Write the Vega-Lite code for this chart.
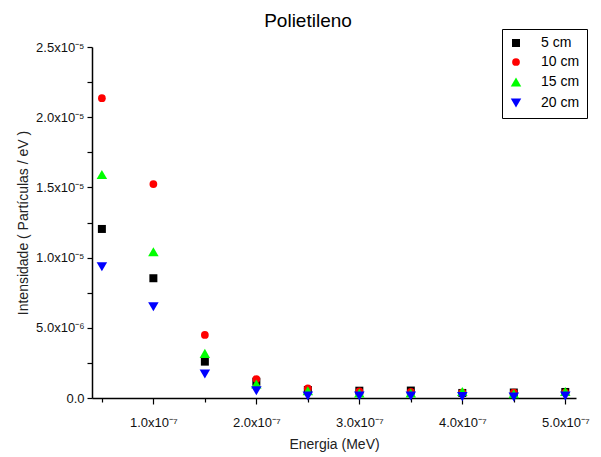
{
  "$schema": "https://vega.github.io/schema/vega-lite/v6.json",
  "autosize": "none",
  "width": 484,
  "height": 351,
  "padding": {"left": 92, "top": 47, "right": 25, "bottom": 59},
  "background": "white",
  "config": {
    "font": "Liberation Sans",
    "view": {"stroke": null}
  },
  "title": {"text": "Polietileno", "fontSize": 19, "fontWeight": "normal", "font": "Liberation Sans", "color": "black", "offset": -2, "dx": -26},
  "data": {
    "values": [
      {"e": 5e-8, "i": 1.204e-5, "s": "5 cm"},
      {"e": 1e-7, "i": 0.853e-5, "s": "5 cm"},
      {"e": 1.5e-7, "i": 0.259e-5, "s": "5 cm"},
      {"e": 2e-7, "i": 0.116e-5, "s": "5 cm"},
      {"e": 2.5e-7, "i": 0.057e-5, "s": "5 cm"},
      {"e": 3e-7, "i": 0.052e-5, "s": "5 cm"},
      {"e": 3.5e-7, "i": 0.053e-5, "s": "5 cm"},
      {"e": 4e-7, "i": 0.036e-5, "s": "5 cm"},
      {"e": 4.5e-7, "i": 0.039e-5, "s": "5 cm"},
      {"e": 5e-7, "i": 0.043e-5, "s": "5 cm"},
      {"e": 5e-8, "i": 2.135e-5, "s": "10 cm"},
      {"e": 1e-7, "i": 1.524e-5, "s": "10 cm"},
      {"e": 1.5e-7, "i": 0.449e-5, "s": "10 cm"},
      {"e": 2e-7, "i": 0.135e-5, "s": "10 cm"},
      {"e": 2.5e-7, "i": 0.069e-5, "s": "10 cm"},
      {"e": 3e-7, "i": 0.048e-5, "s": "10 cm"},
      {"e": 3.5e-7, "i": 0.043e-5, "s": "10 cm"},
      {"e": 4e-7, "i": 0.039e-5, "s": "10 cm"},
      {"e": 4.5e-7, "i": 0.039e-5, "s": "10 cm"},
      {"e": 5e-7, "i": 0.039e-5, "s": "10 cm"},
      {"e": 5e-8, "i": 1.592e-5, "s": "15 cm"},
      {"e": 1e-7, "i": 1.042e-5, "s": "15 cm"},
      {"e": 1.5e-7, "i": 0.318e-5, "s": "15 cm"},
      {"e": 2e-7, "i": 0.1e-5, "s": "15 cm"},
      {"e": 2.5e-7, "i": 0.052e-5, "s": "15 cm"},
      {"e": 3e-7, "i": 0.036e-5, "s": "15 cm"},
      {"e": 3.5e-7, "i": 0.036e-5, "s": "15 cm"},
      {"e": 4e-7, "i": 0.046e-5, "s": "15 cm"},
      {"e": 4.5e-7, "i": 0.03e-5, "s": "15 cm"},
      {"e": 5e-7, "i": 0.046e-5, "s": "15 cm"},
      {"e": 5e-8, "i": 0.935e-5, "s": "20 cm"},
      {"e": 1e-7, "i": 0.65e-5, "s": "20 cm"},
      {"e": 1.5e-7, "i": 0.171e-5, "s": "20 cm"},
      {"e": 2e-7, "i": 0.052e-5, "s": "20 cm"},
      {"e": 2.5e-7, "i": 0.014e-5, "s": "20 cm"},
      {"e": 3e-7, "i": 0.014e-5, "s": "20 cm"},
      {"e": 3.5e-7, "i": 0.014e-5, "s": "20 cm"},
      {"e": 4e-7, "i": 0.01e-5, "s": "20 cm"},
      {"e": 4.5e-7, "i": 0.007e-5, "s": "20 cm"},
      {"e": 5e-7, "i": 0.014e-5, "s": "20 cm"}
    ]
  },
  "mark": {"type": "point", "filled": true, "opacity": 1},
  "encoding": {
    "x": {
      "field": "e", "type": "quantitative",
      "scale": {"domain": [4.04e-8, 5.104e-7], "nice": false, "zero": false},
      "axis": {
        "title": "Energia (MeV)",
        "titleFont": "Liberation Sans", "titleFontSize": 14, "titleFontWeight": "normal", "titleColor": "#222", "titlePadding": 8,
        "values": [5e-8, 1e-7, 1.5e-7, 2e-7, 2.5e-7, 3e-7, 3.5e-7, 4e-7, 4.5e-7, 5e-7],
        "labelExpr": "round(datum.value*2e7) % 2 == 1 ? '' : format(datum.value/1e-7, '.1f') + 'x10⁻⁷'",
        "labelFontSize": 13, "labelColor": "#111", "labelPadding": 12, "labelFlush": false,
        "grid": false, "domainColor": "black", "domainWidth": 1.5, "tickColor": "black", "tickWidth": 1.2,
        "tickSize": {"condition": {"test": "round(datum.value*2e7) % 2 == 1", "value": 4}, "value": 6}
      }
    },
    "y": {
      "field": "i", "type": "quantitative",
      "scale": {"domain": [0, 2.5e-5], "nice": false},
      "axis": {
        "title": "Intensidade ( Partículas / eV )",
        "titleFont": "Liberation Sans", "titleFontSize": 14, "titleFontWeight": "normal", "titleColor": "#222", "titlePadding": 5,
        "values": [0, 2.5e-6, 5e-6, 7.5e-6, 1e-5, 1.25e-5, 1.5e-5, 1.75e-5, 2e-5, 2.25e-5, 2.5e-5],
        "labelExpr": "datum.value == 0 ? '0.0' : (round(datum.value*4e5) % 2 == 1 ? '' : (datum.value < 9e-6 ? format(datum.value/1e-6, '.1f') + 'x10⁻⁶' : format(datum.value/1e-5, '.1f') + 'x10⁻⁵'))",
        "labelFontSize": 13, "labelColor": "#111", "labelPadding": 3,
        "grid": false, "domainColor": "black", "domainWidth": 1.5, "tickColor": "black", "tickWidth": 1.2, "tickSize": 5
      }
    },
    "color": {
      "field": "s", "type": "nominal",
      "scale": {"domain": ["5 cm", "10 cm", "15 cm", "20 cm"], "range": ["#000000", "#ff0000", "#00ff00", "#0000ff"]},
      "legend": {
        "title": null, "orient": "none", "legendX": 410, "legendY": -18,
        "strokeColor": "black", "fillColor": "white", "padding": 7,
        "labelFontSize": 14, "labelColor": "black", "rowPadding": 5, "labelOffset": 18,
        "symbolOpacity": 1
      }
    },
    "shape": {
      "field": "s", "type": "nominal",
      "scale": {"domain": ["5 cm", "10 cm", "15 cm", "20 cm"], "range": ["square", "circle", "triangle-up", "triangle-down"]}
    },
    "size": {
      "field": "s", "type": "ordinal",
      "scale": {"type": "ordinal", "domain": ["5 cm", "10 cm", "15 cm", "20 cm"], "range": [64, 60, 110, 110]},
      "legend": null
    }
  }
}
